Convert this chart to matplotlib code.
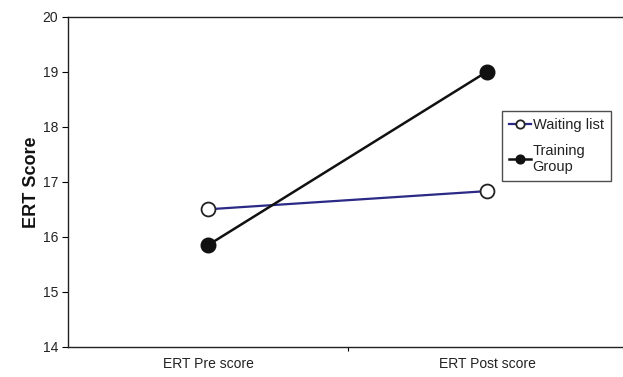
import matplotlib
matplotlib.use('Agg')
import matplotlib.pyplot as plt

plt.rcParams['font.family'] = ['Liberation Sans', 'DejaVu Sans']

# ── data ──────────────────────────────────────────────────────────────
categories = ['ERT Pre score', 'ERT Post score']
waiting_list = [16.5, 16.83]
training_group = [15.85, 19.0]
y_ticks = [14, 15, 16, 17, 18, 19, 20]

# ── figure ────────────────────────────────────────────────────────────
fig = plt.figure(figsize=(6.23, 3.77), dpi=100)
ax = fig.add_axes([68 / 623, 1 - 347 / 377, (623 - 68) / 623, (347 - 16.5) / 377])

x = list(range(len(categories)))
ax.plot(x, waiting_list, color='#2b2a86', lw=1.6, marker='o', ms=10,
        mfc='white', mec='#222222', mew=1.3, label='Waiting list')
ax.plot(x, training_group, color='#111111', lw=1.8, marker='o', ms=10.5,
        mfc='#111111', mec='#111111', label='Training\nGroup')

ax.set_xlim(-0.502, 1.487)
ax.set_ylim(14, 20)
ax.set_yticks(y_ticks)
ax.tick_params(axis='y', direction='out', length=4, labelsize=10, pad=3,
               labelcolor='#222222')

# category labels centred, single divider tick between them
ax.set_xticks([0.5])
ax.set_xticklabels([''])
ax.tick_params(axis='x', direction='out', length=3)
for xi, lab in zip(x, categories):
    ax.text(xi, -0.03, lab, transform=ax.get_xaxis_transform(),
            ha='center', va='top', fontsize=10, color='#222222')

ax.spines['right'].set_visible(False)
for s in ['left', 'bottom', 'top']:
    ax.spines[s].set_linewidth(1.0)
    ax.spines[s].set_color('#222222')

ax.set_ylabel('ERT Score', fontsize=13, fontweight='bold', labelpad=2,
              color='#111111')

leg = ax.legend(loc='upper left', bbox_to_anchor=(434 / 555, (347 - 111) / 330.5),
                fontsize=10.5, frameon=True, fancybox=False, handlelength=1.5,
                handletextpad=0.1, borderpad=0.5, labelspacing=0.8,
                markerscale=0.6, borderaxespad=0)
leg.get_frame().set_edgecolor('#222222')
leg.get_frame().set_linewidth(1.0)
for t in leg.get_texts():
    t.set_color('#222222')

plt.savefig('out.png', dpi=100)
